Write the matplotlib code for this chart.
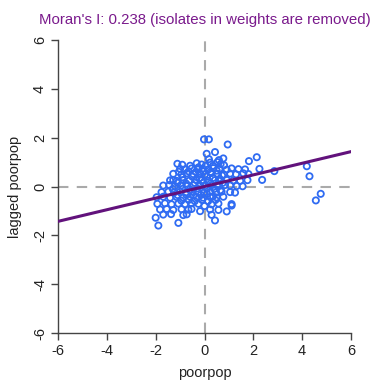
import numpy as np
import matplotlib
matplotlib.use("Agg")
from matplotlib import pyplot as plt

plt.rcParams['font.family'] = ['Liberation Sans', 'DejaVu Sans']

moran_i = 0.238
title = "Moran's I: 0.238 (isolates in weights are removed)"
ticks = [-6, -4, -2, 0, 2, 4, 6]

# values (standardised poorpop vs its spatial lag)
poorpop = [
    -1.11, -0.91, -0.59, -0.32, -0.12, 0.23, 0.53, 0.66, 0.80,
    0.18, 0.59, 0.77, 0.09, 0.43,
    -1.00, -0.80, -0.53, -0.25, -0.08, 0.16, 0.36, 0.61, 0.91, 1.11, 1.39, 1.66,
    -1.28, -0.94, -0.73, -0.46, -0.18, 0.02, 0.29, 0.53, 0.80, 1.05, 1.29, 1.59, 1.80,
    -1.41, -1.28, -1.14, -0.87, -0.62, -0.35, -0.12, 0.16, 0.43, 0.64, 0.91, 1.18, 1.46, 1.76,
    -1.69, -1.44, -1.21, -0.94, -0.70, -0.46, -0.18, 0.02, 0.29, 0.53, 0.84, 1.05, 1.32,
    -1.76, -1.48, -1.25, -1.00, -0.76, -0.53, -0.25, -0.02, 0.23, 0.47, 0.70, 1.05, 1.25,
    -1.96, -1.69, -1.41, -1.14, -0.87, -0.59, -0.32, -0.05, 0.23, 0.50, 0.77,
    -1.93, -1.62, -1.35, -1.07, -0.80, -0.53, -0.25, 0.29, 0.57, 1.11,
    -1.82, -1.55, -1.28, -0.94, -0.66, -0.53, 0.23, 0.57,
    -1.69, -1.37, -0.87, -0.73, 0.29,
    -1.89, -2.00, -1.07, 0.43, -0.18, 0.91, 1.11, -0.02, 0.18, 0.95,
    4.19, 4.30, 4.76, 4.56, 2.14, 1.82, 2.25, 2.86, 2.36, 1.56,
    -1.05, -0.65, -0.35, -0.05, 0.25, 0.50, 0.72, -0.90, -0.50, -0.20, 0.10, 0.35, 0.60,
    -1.10, -0.75, -0.40, -0.05, 0.25, 0.55, 0.75, -1.30, -0.90, -0.60, -0.30, 0.10, 0.40, 0.65,
    -1.10, -0.75, -0.45, -0.15, 0.10, 0.35, -0.95, -0.65, -0.40, -0.10, 0.15, 0.45,
    0.00, 0.05, 0.35, -0.25,
]
lagged = [
    0.93, 0.89, 0.85, 0.95, 0.90, 0.98, 1.00, 0.92, 0.87,
    1.12, 1.08, 1.15, 1.34, 1.41,
    0.72, 0.70, 0.74, 0.71, 0.73, 0.70, 0.75, 0.72, 0.69, 0.74, 0.71, 0.70,
    0.52, 0.50, 0.54, 0.51, 0.53, 0.50, 0.55, 0.52, 0.49, 0.53, 0.50, 0.54, 0.51,
    0.25, 0.27, 0.23, 0.26, 0.24, 0.27, 0.25, 0.23, 0.26, 0.24, 0.27, 0.25, 0.23, 0.26,
    0.04, 0.06, 0.02, 0.05, 0.03, 0.06, 0.04, 0.02, 0.05, 0.03, 0.06, 0.04, 0.02,
    -0.23, -0.21, -0.25, -0.22, -0.24, -0.21, -0.23, -0.25, -0.22, -0.24, -0.21, -0.23, -0.25,
    -0.44, -0.42, -0.46, -0.43, -0.45, -0.42, -0.44, -0.46, -0.43, -0.45, -0.42,
    -0.71, -0.69, -0.73, -0.70, -0.72, -0.69, -0.71, -0.73, -0.70, -0.72,
    -0.94, -0.92, -0.96, -0.93, -0.95, -0.92, -0.94, -0.96,
    -1.15, -1.13, -1.17, -1.14, -1.16,
    -1.60, -1.28, -1.49, -1.39, -1.01, -1.02, -0.78, 1.93, 1.93, 1.72,
    0.83, 0.42, -0.30, -0.57, 1.20, 1.04, 0.72, 0.63, 0.27, 0.01,
    0.60, 0.62, 0.60, 0.62, 0.60, 0.65, 0.45, 0.38, 0.40, 0.35, 0.40, 0.35, 0.30,
    0.15, 0.12, 0.15, 0.15, 0.12, 0.10, 0.15, -0.10, -0.10, -0.12, -0.08, -0.10, -0.10, -0.15,
    -0.35, -0.33, -0.35, -0.35, -0.30, -0.40, -0.58, -0.55, -0.60, -0.55, -0.60, -0.55,
    -0.80, 0.85, 0.85, 0.78,
]

fig = plt.figure(figsize=(3.71, 3.83), dpi=100)
ax = fig.add_axes([58/371, 50/383, 293/371, 293/383])

ax.axhline(0, color='#aaaaaa', lw=1.5, ls=(0, (5, 4)), zorder=1)
ax.axvline(0, color='#aaaaaa', lw=1.5, ls=(0, (5, 4)), zorder=1)
ax.scatter(poorpop, lagged, s=20, facecolors='none', edgecolors='#2f6bf2', linewidths=1.3, zorder=2)
ax.axline((0, 0), slope=moran_i, color='#62127c', lw=2.2, zorder=3)

ax.set_xlim(-6, 6)
ax.set_ylim(-6, 6)
ax.set_xticks(ticks)
ax.set_yticks(ticks)
ax.set_xticklabels([str(t) for t in ticks], fontsize=10.5)
ax.set_yticklabels([str(t) for t in ticks], fontsize=10.5, rotation=90, va='center')
ax.tick_params(length=5, width=1, color='#444444', labelcolor='#222222', pad=3)
for s in ['top', 'right']:
    ax.spines[s].set_visible(False)
for s in ['left', 'bottom']:
    ax.spines[s].set_color('#444444')
    ax.spines[s].set_linewidth(1)

ax.set_xlabel('poorpop', fontsize=10.5, color='#222222', labelpad=6)
ax.set_ylabel('lagged poorpop', fontsize=10.5, color='#222222', labelpad=8)
fig.text(204.5/371, 1 - 20/383, title, ha='center', va='center', fontsize=10.8, color='#7a1a8c')

plt.savefig('out.png', dpi=100)
